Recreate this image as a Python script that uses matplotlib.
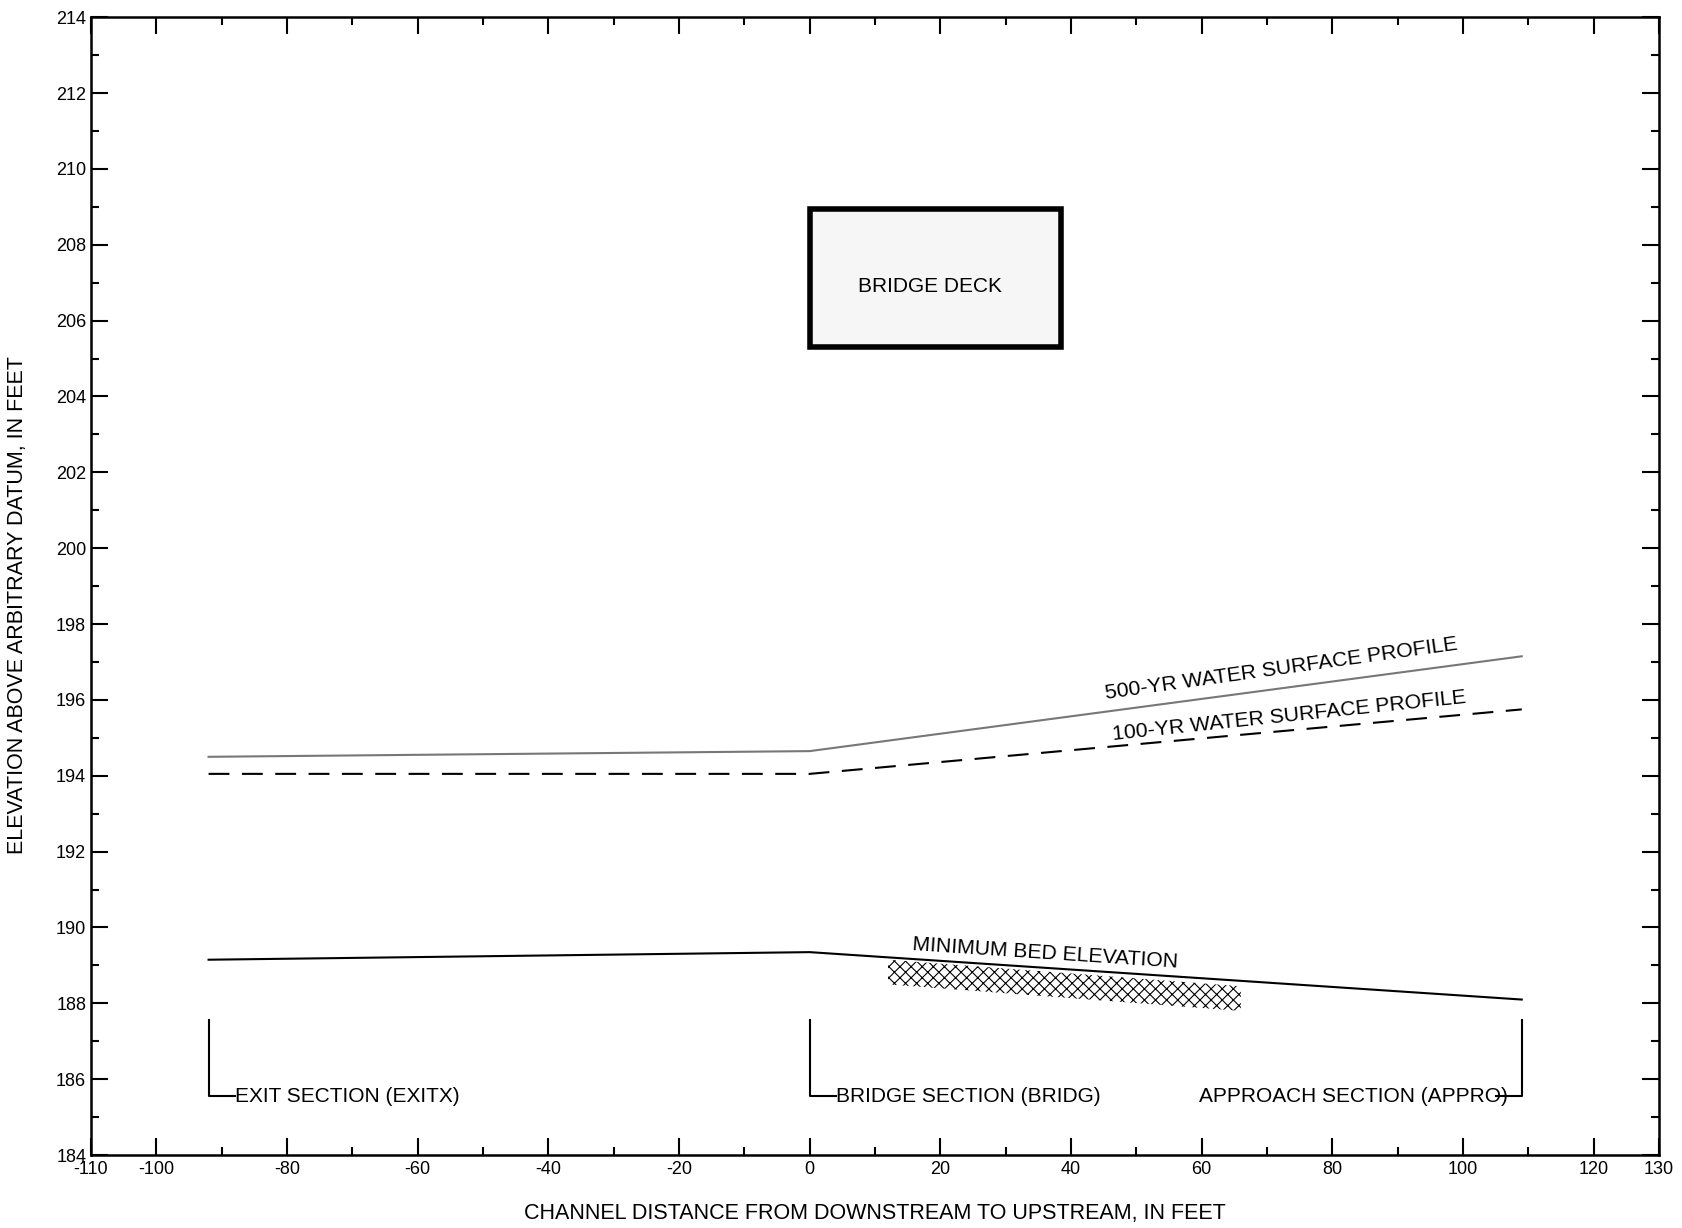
import matplotlib
matplotlib.use('Agg')
import matplotlib.pyplot as plt
from matplotlib.patches import Rectangle, Polygon
from matplotlib.ticker import MultipleLocator

plt.rcParams['font.family'] = ['Liberation Sans', 'DejaVu Sans']
plt.rcParams['hatch.linewidth'] = 0.8
plt.rcParams['hatch.color'] = 'black'
plt.rcParams['axes.unicode_minus'] = False

# profile data (channel distance, elevation)
section_x = [-92, 0, 109]
wsp_500 = [194.5, 194.65, 197.15]
wsp_100 = [194.05, 194.05, 195.75]
bed_elev = [189.15, 189.35, 188.1]

section_names = ['EXIT SECTION (EXITX)', 'BRIDGE SECTION (BRIDG)', 'APPROACH SECTION (APPRO)']

# bridge deck (x from/to, low chord, top of deck)
deck_x = [0, 38.4]
deck_y = [205.3, 208.95]

# scour hatch zone corners
scour_x = [12, 66, 66, 12]
scour_y = [189.15, 188.45, 187.8, 188.5]

fig = plt.figure(figsize=(16.82, 12.28), dpi=100)
ax = fig.add_axes([0.0541, 0.0594, 0.9322, 0.9266])

ax.plot(section_x, wsp_500, color='#777777', lw=1.5)
ax.plot(section_x, wsp_100, color='black', lw=1.5, dashes=(10, 6))
ax.plot(section_x, bed_elev, color='black', lw=1.5)

# scour zone
ax.add_patch(Polygon(list(zip(scour_x, scour_y)), closed=True, facecolor='white',
                     edgecolor='black', hatch='xxx', lw=0))

# bridge deck box
ax.add_patch(Rectangle((deck_x[0], deck_y[0]), deck_x[1] - deck_x[0], deck_y[1] - deck_y[0],
                       facecolor='#f6f6f6', edgecolor='black', lw=4, zorder=3))
ax.text(18.4, 206.9, 'BRIDGE DECK', ha='center', va='center', fontsize=15, zorder=4)

# section markers
for i, (sx, name) in enumerate(zip(section_x, section_names)):
    if i < 2:
        ax.plot([sx, sx, sx + 4], [187.55, 185.55, 185.55], color='black', lw=1.5)
        ax.text(sx + 4, 185.55, name, ha='left', va='center', fontsize=15)
    else:
        ax.plot([sx, sx, sx - 4], [187.55, 185.55, 185.55], color='black', lw=1.5)
        ax.text(sx - 2.2, 185.55, name, ha='right', va='center', fontsize=15)

ax.text(45.4, 196.02, '500-YR WATER SURFACE PROFILE', rotation=8.0, rotation_mode='anchor',
        ha='left', va='baseline', fontsize=15.3)
ax.text(46.4, 194.94, '100-YR WATER SURFACE PROFILE', rotation=6.0, rotation_mode='anchor',
        ha='left', va='baseline', fontsize=15.3)
ax.text(15.7, 189.4, 'MINIMUM BED ELEVATION', rotation=-3.8, rotation_mode='anchor',
        ha='left', va='baseline', fontsize=15.2)

ax.set_xlim(-110, 130)
ax.set_ylim(184, 214)
ax.set_xticks([-110, -100, -80, -60, -40, -20, 0, 20, 40, 60, 80, 100, 120, 130])
ax.xaxis.set_minor_locator(MultipleLocator(10))
ax.yaxis.set_major_locator(MultipleLocator(2))
ax.yaxis.set_minor_locator(MultipleLocator(1))
ax.tick_params(which='both', direction='in', top=True, right=True, width=1.5, labelsize=13)
ax.tick_params(which='major', length=12)
ax.tick_params(which='minor', length=6)
ax.tick_params(axis='x', pad=4)
for s in ax.spines.values():
    s.set_linewidth(1.8)

ax.set_xlabel('CHANNEL DISTANCE FROM DOWNSTREAM TO UPSTREAM, IN FEET', fontsize=15.5, labelpad=18)
ax.set_ylabel('ELEVATION ABOVE ARBITRARY DATUM, IN FEET', fontsize=15.5)
ax.yaxis.set_label_coords(-0.040, 0.483)

fig.savefig('out.png', dpi=100)
